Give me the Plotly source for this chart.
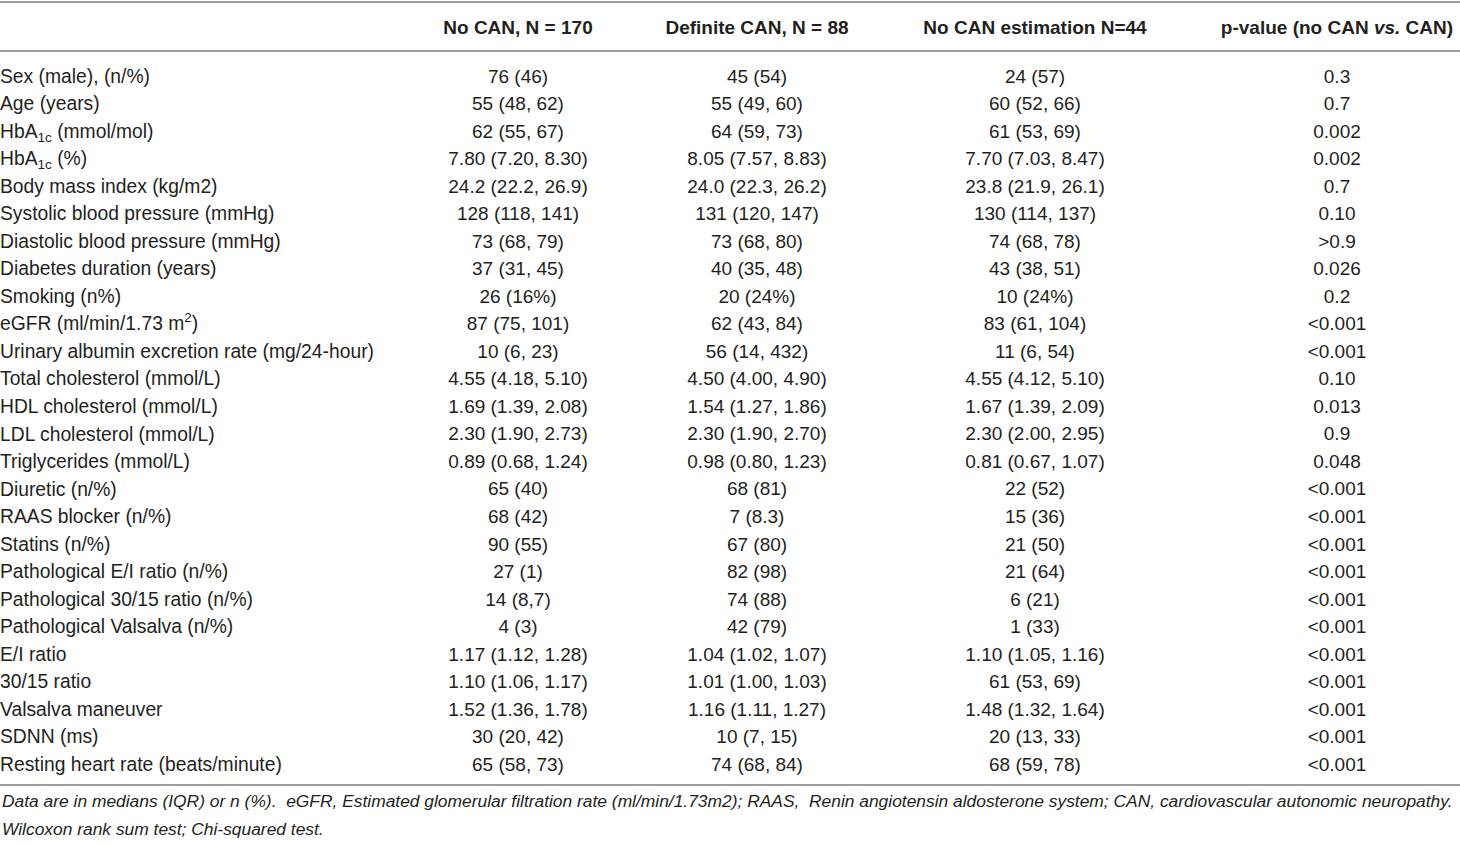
import plotly.graph_objects as go

# column headers
columns = ["No CAN, N = 170", "Definite CAN, N = 88",
           "No CAN estimation N=44", "p-value (no CAN <i>vs.</i> CAN)"]

variables = [
    "Sex (male), (n/%)", "Age (years)", "HbA<sub>1c</sub> (mmol/mol)", "HbA<sub>1c</sub> (%)",
    "Body mass index (kg/m2)", "Systolic blood pressure (mmHg)",
    "Diastolic blood pressure (mmHg)", "Diabetes duration (years)", "Smoking (n%)",
    "eGFR (ml/min/1.73 m<sup>2</sup>)", "Urinary albumin excretion rate (mg/24-hour)",
    "Total cholesterol (mmol/L)", "HDL cholesterol (mmol/L)", "LDL cholesterol (mmol/L)",
    "Triglycerides (mmol/L)", "Diuretic (n/%)", "RAAS blocker (n/%)", "Statins (n/%)",
    "Pathological E/I ratio (n/%)", "Pathological 30/15 ratio (n/%)",
    "Pathological Valsalva (n/%)", "E/I ratio", "30/15 ratio", "Valsalva maneuver",
    "SDNN (ms)", "Resting heart rate (beats/minute)",
]

no_can = [
    "76 (46)", "55 (48, 62)", "62 (55, 67)", "7.80 (7.20, 8.30)", "24.2 (22.2, 26.9)",
    "128 (118, 141)", "73 (68, 79)", "37 (31, 45)", "26 (16%)", "87 (75, 101)",
    "10 (6, 23)", "4.55 (4.18, 5.10)", "1.69 (1.39, 2.08)", "2.30 (1.90, 2.73)",
    "0.89 (0.68, 1.24)", "65 (40)", "68 (42)", "90 (55)", "27 (1)", "14 (8,7)", "4 (3)",
    "1.17 (1.12, 1.28)", "1.10 (1.06, 1.17)", "1.52 (1.36, 1.78)", "30 (20, 42)", "65 (58, 73)",
]

definite_can = [
    "45 (54)", "55 (49, 60)", "64 (59, 73)", "8.05 (7.57, 8.83)", "24.0 (22.3, 26.2)",
    "131 (120, 147)", "73 (68, 80)", "40 (35, 48)", "20 (24%)", "62 (43, 84)",
    "56 (14, 432)", "4.50 (4.00, 4.90)", "1.54 (1.27, 1.86)", "2.30 (1.90, 2.70)",
    "0.98 (0.80, 1.23)", "68 (81)", "7 (8.3)", "67 (80)", "82 (98)", "74 (88)", "42 (79)",
    "1.04 (1.02, 1.07)", "1.01 (1.00, 1.03)", "1.16 (1.11, 1.27)", "10 (7, 15)", "74 (68, 84)",
]

no_estimation = [
    "24 (57)", "60 (52, 66)", "61 (53, 69)", "7.70 (7.03, 8.47)", "23.8 (21.9, 26.1)",
    "130 (114, 137)", "74 (68, 78)", "43 (38, 51)", "10 (24%)", "83 (61, 104)",
    "11 (6, 54)", "4.55 (4.12, 5.10)", "1.67 (1.39, 2.09)", "2.30 (2.00, 2.95)",
    "0.81 (0.67, 1.07)", "22 (52)", "15 (36)", "21 (50)", "21 (64)", "6 (21)", "1 (33)",
    "1.10 (1.05, 1.16)", "61 (53, 69)", "1.48 (1.32, 1.64)", "20 (13, 33)", "68 (59, 78)",
]

p_values = [
    "0.3", "0.7", "0.002", "0.002", "0.7", "0.10", ">0.9", "0.026", "0.2", "<0.001",
    "<0.001", "0.10", "0.013", "0.9", "0.048", "<0.001", "<0.001", "<0.001", "<0.001",
    "<0.001", "<0.001", "<0.001", "<0.001", "<0.001", "<0.001", "<0.001",
]

footnotes = [
    "Data are in medians (IQR) or n (%).  eGFR, Estimated glomerular filtration rate "
    "(ml/min/1.73m2); RAAS,  Renin angiotensin aldosterone system; CAN, cardiovascular "
    "autonomic neuropathy.",
    "Wilcoxon rank sum test; Chi-squared test.",
]

FONT = "Liberation Sans, Arial, sans-serif"
INK = "#231f20"
RULE = "#9d9d9d"

rows = [i + 0.07 for i in range(len(variables))]
col_x = [518, 757, 1035, 1337]

fig = go.Figure()

# row labels
fig.add_trace(go.Scatter(x=[0] * len(rows), y=rows, text=variables, mode="text",
                         textposition="middle right",
                         textfont=dict(family=FONT, size=19.3, color=INK),
                         hoverinfo="skip", showlegend=False))

# value columns
for cx, vals in zip(col_x, [no_can, definite_can, no_estimation, p_values]):
    fig.add_trace(go.Scatter(x=[cx] * len(rows), y=rows, text=vals, mode="text",
                             textposition="middle center",
                             textfont=dict(family=FONT, size=19, color=INK),
                             hoverinfo="skip", showlegend=False))

# header
fig.add_trace(go.Scatter(x=col_x, y=[-1.71] * len(columns),
                         text=["<b>%s</b>" % c for c in columns], mode="text",
                         textposition="middle center",
                         textfont=dict(family=FONT, size=19, color=INK),
                         hoverinfo="skip", showlegend=False))

# horizontal rules
for yy in [-2.69, -0.908, 25.76]:
    fig.add_shape(type="line", xref="paper", x0=0, x1=1, y0=yy, y1=yy,
                  line=dict(color=RULE, width=2))

# footnotes
for yy, note in zip([26.36, 27.36], footnotes):
    fig.add_annotation(x=0, y=yy, xanchor="left", yanchor="middle", showarrow=False,
                       text="<i>%s</i>" % note,
                       font=dict(family=FONT, size=17.4, color=INK))

fig.update_xaxes(range=[0, 1460], visible=False, fixedrange=True)
fig.update_yaxes(range=[27.907, -2.7616], visible=False, fixedrange=True)
fig.update_layout(width=1460, height=844, margin=dict(l=0, r=0, t=0, b=0),
                  plot_bgcolor="white", paper_bgcolor="white")

fig.write_html("out.html", config={"displayModeBar": False},
               post_script="document.body.style.margin='0';")
